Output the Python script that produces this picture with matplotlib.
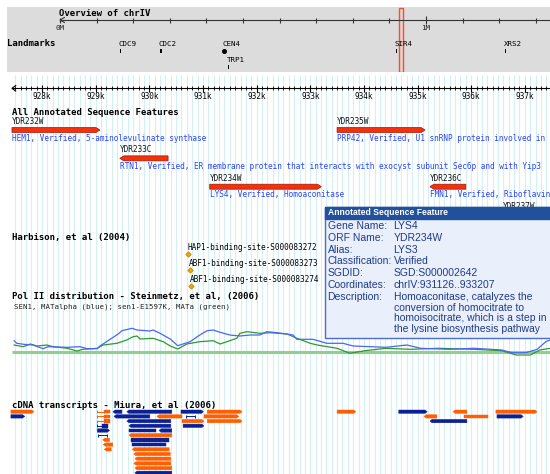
import numpy as np
import matplotlib.pyplot as plt
from matplotlib.patches import Rectangle, Polygon

MONO = "DejaVu Sans Mono"
SANS = "Liberation Sans"

# overview of chrIV, positions in Mb
ov_ticks = np.arange(0, 1.35, 0.1)
lm_names = ["CDC9", "CDC2", "CEN4", "TRP1", "SIR4", "XRS2"]
lm_pos = [0.164, 0.273, 0.447, 0.459, 0.917, 1.216]
lm_len = [0.0023, 0.0045, 0.0, 0.0007, 0.0041, 0.0026]
lm_row = [0, 0, 0, 1, 0, 0]

# detail view, positions in kb
view = (927.44, 937.47)
ruler_k = np.arange(928, 938)

gene_names = ["YDR232W", "YDR233C", "YDR234W", "YDR235W", "YDR236C", "YDR237W"]
gene_start = [927.44, 929.45, 931.126, 933.50, 935.23, 936.59]
gene_end = [929.08, 930.35, 933.207, 935.14, 935.90, 938.20]
gene_strand = [1, -1, 1, 1, -1, 1]
gene_row = [0, 1, 2, 0, 2, 3]
# descriptions as far as they are visible in the window
gene_desc = ["HEM1, Verified, 5-aminolevulinate synthase",
             "RTN1, Verified, ER membrane protein that interacts with exocyst subunit Sec6p and with Yip3",
             "LYS4, Verified, Homoaconitase",
             "PRP42, Verified, U1 snRNP protein involved in",
             "FMN1, Verified, Riboflavin",
             ""]

site_names = ["HAP1-binding-site-S000083272", "ABF1-binding-site-S000083273",
              "ABF1-binding-site-S000083274"]
site_pos = [930.727, 930.753, 930.777]

# Pol II signal (height above baseline)
blue_kb = [927.48, 927.53, 927.66, 927.83, 928.02, 928.11, 928.47, 928.71, 928.84, 929.03,
           929.08, 929.27, 929.42, 929.49, 929.68, 929.77, 930.01, 930.07, 930.20, 930.39,
           930.53, 930.76, 930.94, 931.08, 931.19, 931.32, 931.50, 931.69, 931.88, 932.06,
           932.19, 932.38, 932.68, 932.75, 933.05, 933.31, 933.61, 933.80, 934.41, 934.80,
           935.06, 935.59, 936.05, 936.57, 936.76, 937.02, 937.23, 937.39, 937.47]
blue_val = [11, 8.4, 7.4, 6.7, 3, 5, 4.4, 5, 3, 3,
            5.7, 12.4, 17.7, 21, 23.4, 21.7, 20.7, 21.7, 18.4, 12.7,
            6, 10, 16.7, 21, 21.7, 19.4, 16.7, 15.7, 16.7, 16.7,
            20, 19, 16.7, 12.4, 12.4, 8.4, 8.4, 5.7, 4.4, 6.7,
            3.4, 2.4, 3.4, 1.7, -1, -1, 2.4, 10, 11.7]
green_kb = [927.48, 927.65, 927.78, 927.91, 928.09, 928.21, 928.47, 928.65, 928.76, 929.03,
            929.14, 929.40, 929.58, 929.70, 929.77, 929.83, 930.07, 930.26, 930.39, 930.53,
            930.70, 930.94, 931.19, 931.32, 931.63, 931.69, 931.82, 932.06, 932.25, 932.57,
            932.75, 933.00, 933.13, 933.50, 933.74, 934.02, 934.41, 934.86, 935.40, 936.05,
            936.57, 936.84, 937.10, 937.28, 937.47]
green_val = [6.7, 5, 7.7, 5.7, 6.7, 5, 3.4, 0.7, 2.4, 3.4,
             6.7, 8.4, 11.7, 15, 15.7, 12.7, 13.4, 10, 5.7, 2.7,
             7.7, 10, 11, 7.7, 13.4, 18.4, 20, 18.4, 19, 17.7,
             13.4, 8.4, 6.7, 3.4, -1.6, 1, 3.4, 2.4, 3.4, 2.4,
             1, -3.3, -3.3, 1.7, 3.4]

# cDNA transcripts
tx_row = [0, 0, 0, 0, 0, 0, 0, 0, 0, 0, 0,
          1, 1, 1, 1, 1, 1, 1, 1, 1, 1,
          2, 2, 2, 2, 2, 2,
          3, 3, 3, 3,
          4, 4, 4,
          5, 5, 6, 6, 7, 7, 8, 8, 9, 10, 11, 12, 13]
tx_start = [927.42, 929.03, 929.15, 929.32, 929.58, 930.59, 931.08, 933.50, 934.65, 935.66, 936.46,
            927.42, 929.03, 929.15, 929.34, 930.14, 930.68, 931.02, 935.12, 935.87, 936.48,
            929.03, 929.15, 929.58, 930.61, 931.08, 935.23,
            929.03, 929.12, 929.62, 930.63,
            929.03, 929.62, 930.18,
            929.04, 929.62, 929.13, 929.65, 929.14, 929.67, 929.16, 929.68,
            929.71, 929.73, 929.71, 929.73, 929.73]
tx_end = [927.85, 929.15, 929.26, 929.49, 930.42, 931.01, 931.73, 933.85, 935.18, 935.92, 937.23,
          927.68, 929.15, 929.26, 930.01, 930.61, 930.85, 931.67, 935.36, 936.31, 936.97,
          929.15, 929.26, 930.40, 931.02, 931.73, 935.92,
          929.12, 929.23, 930.40, 931.02,
          929.26, 930.13, 930.42,
          929.21, 930.42, 929.26, 930.37, 929.32, 930.32, 929.29, 930.37,
          930.39, 930.40, 930.40, 930.42, 930.42]
tx_color = ["o", "o", "o", "b", "b", "b", "o", "o", "b", "o", "o",
            "b", "o", "o", "b", "o", "b", "o", "o", "o", "b",
            "o", "o", "b", "o", "o", "b",
            "b", "b", "b", "b",
            "b", "b", "b",
            "b", "o", "o", "b", "o", "b", "o", "o",
            "o", "o", "o", "o", "b"]
tx_strand = ["+", "gap", ".", "-", "-", "+", "+", "+", "+", "-", "+",
             "+", "gap", ".", "-", "-", "gap", "+", "-", ".", "+",
             "gap", ".", "-", "+", "+", "-",
             "gap", ".", "-", "+",
             "+", ".", "-",
             "gap", "-", "-", ".", "-", ".", "-", "-",
             "-", "-", "-", "-", "-"]

popup_keys = ["Gene Name:", "ORF Name:", "Alias:", "Classification:", "SGDID:",
              "Coordinates:", "Description:"]
popup_vals = ["LYS4", "YDR234W", "LYS3", "Verified", "SGD:S000002642",
              "chrIV:931126..933207",
              "Homoaconitase, catalyzes the\nconversion of homocitrate to\n"
              "homoisocitrate, which is a step in\nthe lysine biosynthesis pathway"]

fig = plt.figure(figsize=(5.5, 4.74), dpi=100)

# ---- overview panel (gray) ----
ov = fig.add_axes([7 / 550, 1 - 72 / 474, 543 / 550, 65 / 474])
ov.set_facecolor("#dcdcdc")
ov.set_xlim((7 - 60) / 366, (550 - 60) / 366)
ov.set_ylim(72, 7)
ov.set_xticks([]); ov.set_yticks([])
for s in ov.spines.values():
    s.set_visible(False)
ov.hlines(20, 0, 1.4, color="#333333", lw=0.8)
ov.plot([0.012, 0, 0.012], [17.5, 20, 22.5], color="#333333", lw=0.8)
for t in ov_ticks:
    big = abs(t - round(t)) < 1e-6 and t > 0
    ov.vlines(t, 15.5 if big else 17.5, 23.5 if big else 22.5, color="#333333", lw=0.8)
ov.text(0, 28, "0M", fontsize=5.4, family=MONO, ha="center", va="center", color="#222222")
ov.text(1.0, 28, "1M", fontsize=5.4, family=MONO, ha="center", va="center", color="#222222")
ov.text((59 - 60) / 366, 13, "Overview of chrIV", fontsize=6.5, family=MONO,
        fontweight="bold", ha="left", va="center")
ov.text((7 - 60) / 366, 43.5, "Landmarks", fontsize=6.5, family=MONO,
        fontweight="bold", ha="left", va="center")
for name, p, ln, r in zip(lm_names, lm_pos, lm_len, lm_row):
    ly = 43.5 + r * 16
    ov.text(p - 0.003, ly, name, fontsize=5.4, family=MONO, ha="left", va="center")
    if name.startswith("CEN"):
        ov.plot(p, ly + 7, "o", color="black", ms=2.6)
    else:
        w = max(ln, 0.0028)
        ov.add_patch(Rectangle((p, ly + 5.5), w, 4, color="black", lw=0))
ov.add_patch(Rectangle((view[0] / 1000, 7.5), (view[1] - view[0]) / 1000, 64,
                       fc="#ead2cc", ec="#e8462e", lw=1.0, alpha=0.9))

# ---- detail tracks (x = kb) ----
ax = fig.add_axes([0, 0, 1, 1])
ax.set_xlim(928 - 42 / 53.65, 928 + 508 / 53.65)
ax.set_ylim(474, 0)
ax.axis("off")

grid = np.arange(927.5, view[1], 0.1)
ax.vlines(grid, 75, 474, color="#d2f0f6", lw=0.8, zorder=0)

# ruler
ax.hlines(88.3, view[0], view[1], color="black", lw=0.8)
ax.plot([view[0] + 0.07, view[0], view[0] + 0.07], [85.5, 88.3, 91.1], color="black", lw=0.8)
ax.vlines(np.arange(927.5, view[1], 0.1), 86.3, 90.3, color="black", lw=0.6)
for k in ruler_k:
    ax.vlines(k, 84.8, 91.8, color="black", lw=0.8)
    ax.text(k, 96.5, f"{k}k", fontsize=5.6, family=MONO, ha="center", va="center")

# genes
gene_y0, gene_dy, gh, head = 130.0, 28.35, 5.0, 0.075
for name, s, e, st, r, d in zip(gene_names, gene_start, gene_end, gene_strand, gene_row, gene_desc):
    y = gene_y0 + r * gene_dy
    if st > 0:
        pts = [(s, y - gh / 2), (e - head, y - gh / 2), (e, y), (e - head, y + gh / 2), (s, y + gh / 2)]
    else:
        pts = [(s + head, y - gh / 2), (e, y - gh / 2), (e, y + gh / 2), (s + head, y + gh / 2), (s, y)]
    ax.add_patch(Polygon(pts, closed=True, fc="#f5300c", ec="#9a1a00", lw=0.5, zorder=3))
    ax.text(s, y - 8.4, name, fontsize=5.6, family=MONO, ha="left", va="center", color="#111111")
    if d:
        ax.text(s, y + 8.3, d, fontsize=5.6, family=MONO, ha="left", va="center", color="#2a46ee")

# binding sites
for i, (nm, p) in enumerate(zip(site_names, site_pos)):
    y = 254 + i * 16
    ax.plot(p, y, marker="D", ms=2.8, mfc="#f0a800", mec="#b07000", mew=0.4, zorder=3)
    ax.text(p - 0.02, y - 6.8, nm, fontsize=5.6, family=MONO, ha="left", va="center")

# Pol II
base = 351.7
ax.hlines(base, view[0], view[1], color="#8fd08f", lw=2.2, zorder=2)
ax.plot(green_kb, base - np.array(green_val), color="#2e9a2e", lw=0.9, zorder=3)
ax.plot(blue_kb, base - np.array(blue_val), color="#4a66f5", lw=0.9, zorder=3)

# cDNA transcripts
cols = {"o": "#ff5f00", "b": "#0c2096"}
ty0, tdy, th, thd = 411.7, 4.7, 3.4, 0.04
for r, s, e, c, st in zip(tx_row, tx_start, tx_end, tx_color, tx_strand):
    y = ty0 + r * tdy
    col = cols[c]
    if st == "gap":
        ax.hlines(y, s, e, color=col, lw=0.7, zorder=3)
        ax.vlines([s, e], y - 1.5, y + 1.5, color=col, lw=0.7, zorder=3)
        continue
    if st == "+":
        pts = [(s, y - th / 2), (e - thd, y - th / 2), (e, y), (e - thd, y + th / 2), (s, y + th / 2)]
    elif st == "-":
        pts = [(s + thd, y - th / 2), (e, y - th / 2), (e, y + th / 2), (s + thd, y + th / 2), (s, y)]
    else:
        pts = [(s, y - th / 2), (e, y - th / 2), (e, y + th / 2), (s, y + th / 2)]
    ax.add_patch(Polygon(pts, closed=True, fc=col, ec=col, lw=0.3, zorder=3))

# ---- labels and popup (pixel coords) ----
px = fig.add_axes([0, 0, 1, 1])
px.set_xlim(0, 550)
px.set_ylim(474, 0)
px.axis("off")

heads = [("All Annotated Sequence Features", 112.3), ("Harbison, et al (2004)", 237.3),
         ("Pol II distribution - Steinmetz, et al, (2006)", 296.7),
         ("cDNA transcripts - Miura, et al (2006)", 405.5)]
for t, y in heads:
    px.text(11.5, y, t, fontsize=6.5, family=MONO, fontweight="bold", ha="left", va="center")
px.text(14, 306.7, "SEN1, MATalpha (blue); sen1-E1597K, MATa (green)", fontsize=5.3,
        family=MONO, ha="left", va="center", color="#222222")

px.add_patch(Rectangle((325, 207), 240, 131, fc="#eaf0fb", ec="#4a6fc8", lw=1.0, zorder=5))
px.add_patch(Rectangle((325, 207), 240, 11.5, fc="#21509c", ec="#21509c", lw=1.0, zorder=6))
px.text(327.5, 212.8, "Annotated Sequence Feature", fontsize=6.2, family=SANS,
        fontweight="bold", color="white", ha="left", va="center", zorder=7)
row_y = [226, 237.8, 249.6, 261.5, 273.3, 285.2, 297.0]
for k, v, y in zip(popup_keys, popup_vals, row_y):
    px.text(327.5, y, k, fontsize=7.5, family=SANS, color="#1f3a8a", ha="left", va="center", zorder=7)
    for j, line in enumerate(v.split("\n")):
        px.text(393.5, y + j * 10.6, line, fontsize=7.5, family=SANS, color="#1f3a8a",
                ha="left", va="center", zorder=7)

fig.savefig("out.png", dpi=100)
